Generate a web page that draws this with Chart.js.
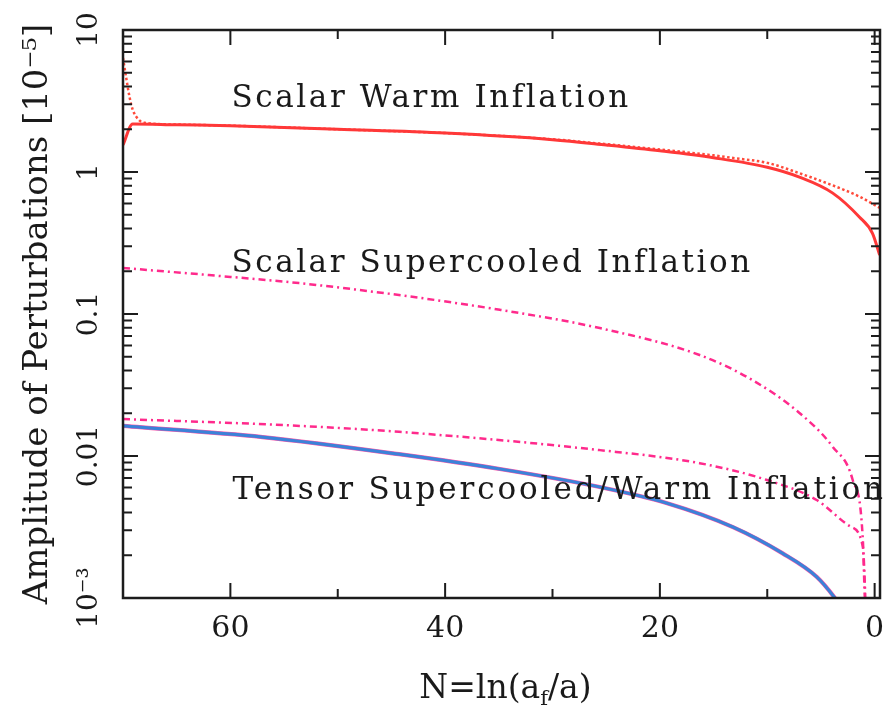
<!DOCTYPE html>
<html>
<head>
<meta charset="utf-8">
<script src="https://cdn.jsdelivr.net/npm/chart.js@4/dist/chart.umd.min.js"></script>
<style>
html,body{margin:0;padding:0;background:#ffffff;}
canvas{display:block;}
</style>
</head>
<body>
<canvas id="c" width="884" height="707"></canvas>
<script>
// ---- Data (N = e-folds before end of inflation, amplitude in units of 1e-5) ----
const warmSolidN  = [70, 69.1, 65, 60, 50, 40, 30, 25, 20, 15, 10, 7, 3.9, 1.4, 0.2, -0.47];
const warmSolidV  = [1.55, 2.18, 2.15, 2.12, 2.0, 1.88, 1.69, 1.55, 1.41, 1.26, 1.08, 0.92, 0.71, 0.48, 0.37, 0.26];

const warmDottedN = [70, 69.7, 69.4, 69.1, 68.5, 68, 65, 60, 50, 40, 30, 25, 20, 15, 13, 10, 7, 4, 1.4, -0.45];
const warmDottedV = [6.35, 4.6, 3.4, 2.75, 2.32, 2.22, 2.16, 2.12, 2.0, 1.88, 1.70, 1.57, 1.44, 1.31, 1.25, 1.16, 0.98, 0.81, 0.67, 0.56];

const superScalarN = [70, 62, 53.6, 44.3, 34.9, 25.6, 16.3, 11.4, 7.0, 3.9, 2.05, 1.1, 0.93, 0.88];
const superScalarV = [0.211, 0.188, 0.165, 0.136, 0.107, 0.0796, 0.0514, 0.0343, 0.0201, 0.0116, 0.0068, 0.0026, 0.00108, 0.0009];

const superLowN = [70, 55, 44.3, 25.6, 16.3, 10.1, 5.4, 2.3, 1.1, 0.95, 0.85];
const superLowV = [0.0182, 0.0165, 0.0148, 0.0110, 0.0089, 0.0068, 0.0049, 0.0032, 0.0023, 0.0015, 0.0009];

const tensorN = [70, 57, 44.3, 34.9, 25.6, 19.4, 13.2, 8.6, 5.4, 3.7, 3.5];
const tensorV = [0.0163, 0.0136, 0.0103, 0.0081, 0.00605, 0.00467, 0.00316, 0.00207, 0.00141, 0.001, 0.00095];

// ---- Axis ticks / labels ----
const xTickValues  = [0, 10, 20, 30, 40, 50, 60];
const xLabelValues = [0, 20, 40, 60];
const yDecades     = [0.001, 0.01, 0.1, 1, 10];
const yDecadeLabels = ['10\u207B\u00B3', '0.01', '0.1', '1', '10'];

// ---- Text annotations ----
const annTexts = ['Scalar Warm Inflation', 'Scalar Supercooled Inflation', 'Tensor Supercooled/Warm Inflation'];
const annN     = [59.9, 59.9, 59.8];
const annV     = [2.87, 0.198, 0.00498];
const annWidth = [396, 518, 650];

const xTitleParts = ['N=ln(a', 'f', '/a)'];
const yTitle = 'Amplitude of Perturbations [10\u207B\u2075]';

function pts(xs, ys) { return xs.map((x, i) => ({x: x, y: ys[i]})); }
function isDecade(v) { const l = Math.log10(v); return Math.abs(l - Math.round(l)) < 1e-6; }

const SERIF = '"DejaVu Serif", "Liberation Serif", serif';

const framePlugin = {
  id: 'framePlugin',
  afterDatasetsDraw(chart) {
    const ctx = chart.ctx, a = chart.chartArea, xs = chart.scales.x, ys = chart.scales.y;
    ctx.save();
    ctx.strokeStyle = '#1c1c1c';
    ctx.lineWidth = 2;
    ctx.beginPath();
    xs.ticks.forEach(t => {
      const px = xs.getPixelForValue(t.value);
      if (px < a.left + 2 || px > a.right - 2) return;
      const len = xLabelValues.includes(t.value) ? 15 : 9;
      ctx.moveTo(px, a.bottom); ctx.lineTo(px, a.bottom - len);
      ctx.moveTo(px, a.top); ctx.lineTo(px, a.top + len);
    });
    ys.ticks.forEach(t => {
      const py = ys.getPixelForValue(t.value);
      if (py < a.top + 2 || py > a.bottom - 2) return;
      const len = isDecade(t.value) ? 15 : 9;
      ctx.moveTo(a.left, py); ctx.lineTo(a.left + len, py);
      ctx.moveTo(a.right, py); ctx.lineTo(a.right - len, py);
    });
    ctx.stroke();
    ctx.lineWidth = 2.5;
    ctx.strokeRect(a.left, a.top, a.right - a.left, a.bottom - a.top);

    // annotations
    ctx.fillStyle = '#1a1a1a';
    ctx.font = '31px ' + SERIF;
    ctx.textAlign = 'left';
    ctx.textBaseline = 'alphabetic';
    annTexts.forEach((txt, i) => {
      ctx.letterSpacing = '0px';
      const w = ctx.measureText(txt).width;
      const ls = (annWidth[i] - w) / (txt.length - 1);
      ctx.letterSpacing = ls.toFixed(2) + 'px';
      ctx.fillText(txt, xs.getPixelForValue(annN[i]), ys.getPixelForValue(annV[i]));
    });
    ctx.letterSpacing = '0px';

    // x title with subscript
    const cx = (a.left + a.right) / 2 + 4;
    const base = 698;
    ctx.font = '33px ' + SERIF;
    const w1 = ctx.measureText(xTitleParts[0]).width;
    const w3 = ctx.measureText(xTitleParts[2]).width;
    ctx.font = '21px ' + SERIF;
    const w2 = ctx.measureText(xTitleParts[1]).width;
    let sx = cx - (w1 + w2 + w3) / 2;
    ctx.font = '33px ' + SERIF;
    ctx.fillText(xTitleParts[0], sx, base);
    ctx.font = '21px ' + SERIF;
    ctx.fillText(xTitleParts[1], sx + w1, base + 7);
    ctx.font = '33px ' + SERIF;
    ctx.fillText(xTitleParts[2], sx + w1 + w2, base);
    ctx.restore();
  }
};

const dashDot = [7, 4, 2, 4];

new Chart(document.getElementById('c'), {
  type: 'line',
  data: {
    datasets: [
      { label: 'Tensor', data: pts(tensorN, tensorV), borderColor: '#3c82d8', borderWidth: 3.2 },
      { label: 'Tensor (warm)', data: pts(tensorN, tensorV), borderColor: '#ff5aa8', borderWidth: 4.2 },
      { label: 'Scalar Warm', data: pts(warmSolidN, warmSolidV), borderColor: '#ff3838', borderWidth: 3 },
      { label: 'Scalar Warm (dotted)', data: pts(warmDottedN, warmDottedV), borderColor: '#ff4a3a', borderWidth: 2.5, borderDash: [2.5, 2.5] },
      { label: 'Scalar Supercooled', data: pts(superScalarN, superScalarV), borderColor: '#ff2a8c', borderWidth: 2.5, borderDash: dashDot },
      { label: 'Supercooled (lower)', data: pts(superLowN, superLowV), borderColor: '#ff2a8c', borderWidth: 2.5, borderDash: dashDot }
    ]
  },
  options: {
    responsive: false,
    animation: false,
    devicePixelRatio: 1,
    layout: { padding: { left: 0, right: 4, top: 30, bottom: 0 } },
    elements: {
      point: { radius: 0 },
      line: { cubicInterpolationMode: 'monotone', fill: false }
    },
    plugins: { legend: { display: false }, tooltip: { enabled: false } },
    scales: {
      x: {
        type: 'linear',
        reverse: true,
        min: -0.5,
        max: 70,
        grid: { display: false, drawTicks: false },
        border: { display: false },
        afterBuildTicks: s => { s.ticks = xTickValues.map(v => ({ value: v })); },
        afterFit: s => { s.height = 109; },
        ticks: {
          autoSkip: false,
          maxRotation: 0,
          padding: 13,
          color: '#1a1a1a',
          font: { family: SERIF, size: 30 },
          callback: v => xLabelValues.includes(v) ? String(v) : ''
        }
      },
      y: {
        type: 'logarithmic',
        min: 0.001,
        max: 10,
        grid: { display: false, drawTicks: false },
        border: { display: false },
        afterBuildTicks: s => {
          const t = [];
          for (let e = -3; e <= 0; e++) for (let m = 1; m <= 9; m++) t.push({ value: +(m * Math.pow(10, e)).toPrecision(6) });
          t.push({ value: 10 });
          s.ticks = t;
        },
        afterFit: s => { s.width = 123; },
        ticks: {
          autoSkip: false,
          minRotation: 90,
          maxRotation: 90,
          crossAlign: 'center',
          padding: 2,
          color: '#1a1a1a',
          font: { family: SERIF, size: 28 },
          callback: v => {
            if (!isDecade(v)) return '';
            const i = yDecades.findIndex(d => Math.abs(Math.log10(d) - Math.log10(v)) < 1e-6);
            return i >= 0 ? yDecadeLabels[i] : '';
          }
        },
        title: {
          display: true,
          text: yTitle,
          color: '#1a1a1a',
          font: { family: SERIF, size: 34 },
          padding: { top: 18, bottom: 0 }
        }
      }
    }
  },
  plugins: [framePlugin]
});
</script>
</body>
</html>
